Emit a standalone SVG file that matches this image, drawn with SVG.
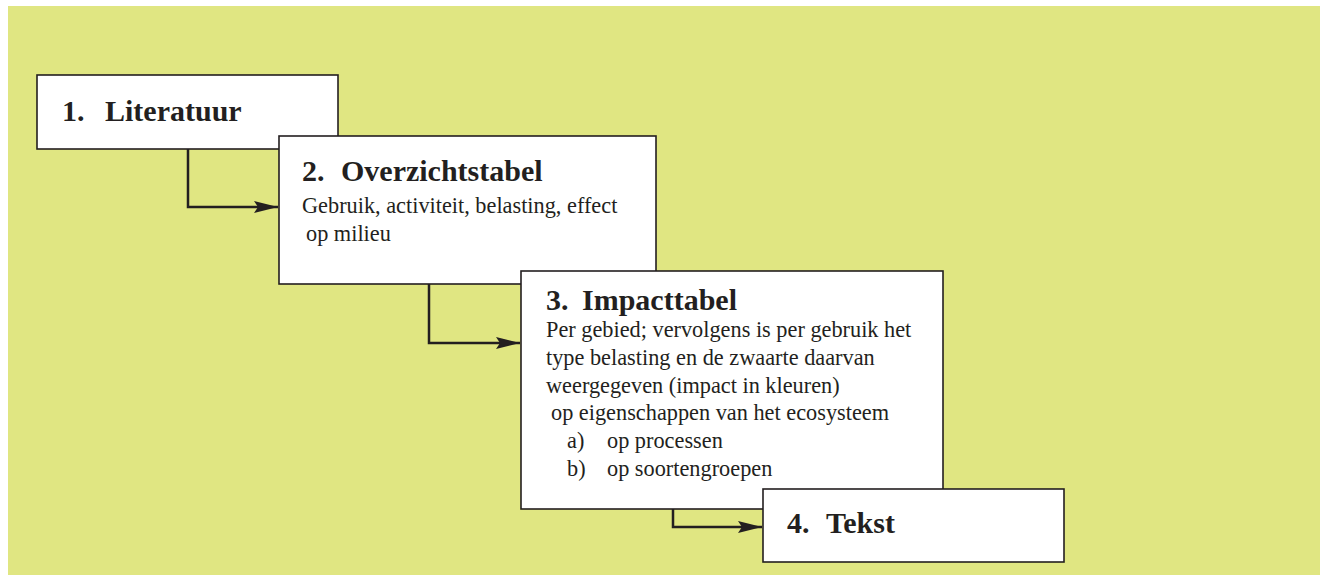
<svg xmlns="http://www.w3.org/2000/svg" width="1324" height="575" viewBox="0 0 1324 575">
  <defs>
    <marker id="arrow" markerUnits="userSpaceOnUse" markerWidth="24" markerHeight="12" refX="24" refY="6" orient="auto">
      <path d="M0,0 L24,6 L0,12 L4,6 z" fill="#231f20"/>
    </marker>
    <style>
      .box { fill: #ffffff; stroke: #231f20; stroke-width: 1.6; }
      .title { font-family: "Liberation Serif", "Times New Roman", serif; font-weight: bold; font-size: 30px; fill: #231f20; }
      .body { font-family: "Liberation Serif", "Times New Roman", serif; font-size: 22.3px; fill: #231f20; }
      .conn { fill: none; stroke: #231f20; stroke-width: 2.5; }
    </style>
  </defs>
  <rect x="0" y="0" width="1324" height="575" fill="#ffffff"/>
  <rect x="8" y="6" width="1312" height="569" fill="#e0e682"/>

  <g id="node1">
    <rect class="box" x="37" y="75" width="301" height="74"/>
    <text class="title" x="62" y="121">1.<tspan x="105">Literatuur</tspan></text>
  </g>
  <g id="node2">
    <rect class="box" x="279" y="136" width="377" height="148"/>
    <text class="title" x="302" y="181">2.<tspan x="341">Overzichtstabel</tspan></text>
    <text class="body" x="302" y="213">Gebruik, activiteit, belasting, effect</text>
    <text class="body" x="306" y="241">op milieu</text>
  </g>
  <g id="node3">
    <rect class="box" x="521" y="271" width="422" height="238"/>
    <text class="title" x="546" y="310">3.<tspan x="582">Impacttabel</tspan></text>
    <text class="body" x="546" y="337">Per gebied; vervolgens is per gebruik het</text>
    <text class="body" x="546" y="365">type belasting en de zwaarte daarvan</text>
    <text class="body" x="546" y="393">weergegeven (impact in kleuren)</text>
    <text class="body" x="551" y="420">op eigenschappen van het ecosysteem</text>
    <text class="body" x="567" y="448">a)<tspan x="607">op processen</tspan></text>
    <text class="body" x="567" y="476">b)<tspan x="607">op soortengroepen</tspan></text>
  </g>
  <g id="node4">
    <rect class="box" x="763" y="489" width="301" height="73"/>
    <text class="title" x="787" y="533">4.<tspan x="826">Tekst</tspan></text>
  </g>

  <g id="connectors">
    <path class="conn" d="M188,149 V207 H278" marker-end="url(#arrow)"/>
    <path class="conn" d="M429,284 V343 H520" marker-end="url(#arrow)"/>
    <path class="conn" d="M673,509 V527 H762" marker-end="url(#arrow)"/>
  </g>
</svg>
